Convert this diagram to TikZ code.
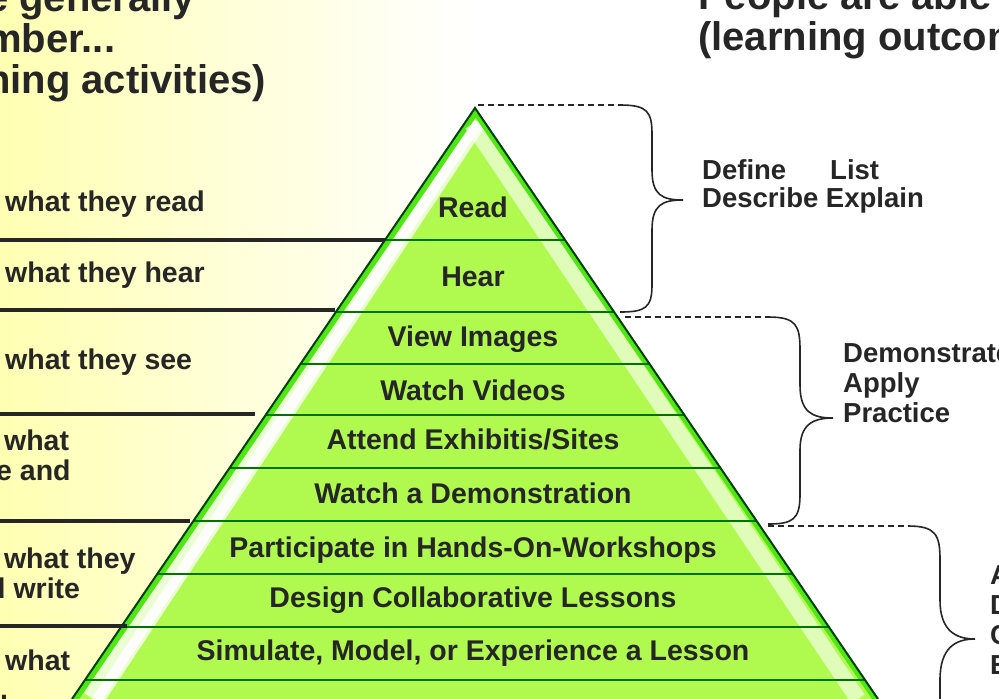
\documentclass[tikz,border=0pt]{standalone}
\usepackage{fontspec}
\setmainfont{Liberation Sans}
\begin{document}
\begin{tikzpicture}[x=1pt,y=-1pt,
  lbl/.style={font=\bfseries\fontsize{28.5}{30}\selectfont, text=black!85},
  ltxt/.style={lbl, anchor=west, align=left, inner sep=0pt},
  rtxt/.style={font=\bfseries\fontsize{27.5}{30}\selectfont, text=black!85, anchor=west, align=left, inner sep=0pt},
  ttl/.style={font=\bfseries\fontsize{40}{41}\selectfont, text=black!85, anchor=west, align=left, inner sep=0pt},
  rule/.style={line width=3.5pt, black!85},
  band/.style={line width=2.5pt, green!45!black},
  brace/.style={line width=1.6pt, black!85},
  dashline/.style={line width=1.4pt, black!85, dash pattern=on 6pt off 4pt}]
\useasboundingbox (0,0) rectangle (999,699);
\shade[left color=yellow!30, right color=white] (0,0) rectangle (470,699);
% pyramid
\coordinate (apex) at (475,108);
\coordinate (bl) at (72,699);
\coordinate (br) at (878,699);
\begin{scope}
\clip (apex) -- (bl) -- (br) -- cycle;
\fill[color={rgb,255:red,176;green,250;blue,80}] (0,100) rectangle (999,699);
\draw[white, line width=22pt, opacity=0.75] (475,122) -- (93,699);
\draw[white, line width=10pt, opacity=0.9] (478,122) -- (97,699);
\draw[color={rgb,255:red,80;green,230;blue,20}, line width=12pt] (475,108) -- (72,699);
\draw[white, line width=16pt, opacity=0.6] (472,124) -- (858,699);
\draw[color={rgb,255:red,80;green,230;blue,20}, line width=10pt] (475,108) -- (878,699);
\foreach \y in {240,312,364,415,468,521,574,627,680}
  \draw[band] (0,\y) -- (999,\y);
\end{scope}
\draw[line width=2pt, green!25!black] (bl) -- (apex) -- (br);
% pyramid labels
\node[lbl] (n1) at (473,207) {Read};
\node[lbl] (n2) at (473,277) {Hear};
\node[lbl] (n3) at (473,339) {View Images};
\node[lbl] (n4) at (473,390) {Watch Videos};
\node[lbl] (n5) at (473,439) {Attend Exhibitis/Sites};
\node[lbl] (n6) at (473,493) {Watch a Demonstration};
\node[lbl] (n7) at (473,550) {Participate in Hands-On-Workshops};
\node[lbl] (n8) at (473,600) {Design Collaborative Lessons};
\node[lbl] (n9) at (473,653) {Simulate, Model, or Experience a Lesson};
% left rules
\draw[rule] (0,240) -- (385,240);
\draw[rule] (0,310) -- (335,310);
\draw[rule] (0,414) -- (255,414);
\draw[rule] (0,521) -- (190,521);
\draw[rule] (0,626) -- (127,626);
% left texts
\node[ltxt] (l1) at (5,204) {what they read};
\node[ltxt] (l2) at (5,275) {what they hear};
\node[ltxt] (l3) at (5,362) {what they see};
\node[ltxt] (l4) at (-4,455) {\ what\\e and};
\node[ltxt] (l5) at (-12,573) {\ \ what they\\d write};
\node[ltxt] (l6) at (5,660) {what};
\node[ltxt] (l7) at (0,697) {.};
% titles
\node[ttl] (t1) at (-14,42) {e generally\\mber...\\ning activities)};
\node[ttl] (t2) at (698,20) {People are able\\(learning outcomes)};
% braces
\draw[dashline] (478,105) -- (622,105);
\draw[brace] (620,105) .. controls (648,105) and (652,112) .. (652,135) -- (652,170)
  .. controls (652,195) and (662,200) .. (683,200)
  .. controls (662,200) and (652,205) .. (652,230) -- (652,285)
  .. controls (652,308) and (645,312) .. (620,312);
\node[rtxt] (d1) at (702,170) {Define};
\node[rtxt] (d2) at (830,170) {List};
\node[rtxt] (d3) at (702,200) {Describe Explain};
\draw[dashline] (625,317) -- (770,317);
\draw[brace] (768,317) .. controls (796,317) and (800,325) .. (800,350) -- (800,385)
  .. controls (800,412) and (812,418) .. (833,418)
  .. controls (812,418) and (800,425) .. (800,450) -- (800,495)
  .. controls (800,520) and (792,524) .. (768,524);
\node[rtxt, align=left] (d4) at (843,383) {Demonstrate\\Apply\\Practice};
\draw[dashline] (768,526) -- (910,526);
\draw[brace] (908,526) .. controls (936,526) and (940,535) .. (940,560) -- (940,600)
  .. controls (940,630) and (955,639) .. (975,639)
  .. controls (955,639) and (940,648) .. (940,680) -- (940,710);
\node[rtxt] (d5) at (990,620) {A\\D\\C\\E};
\end{tikzpicture}
\end{document}
